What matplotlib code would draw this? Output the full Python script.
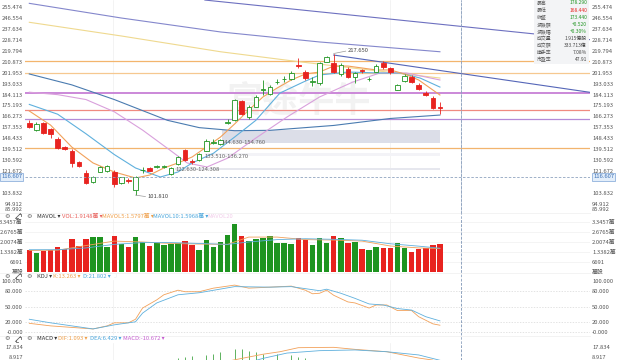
import numpy as np
import matplotlib.pyplot as plt
from matplotlib.patches import Rectangle

plt.rcParams['font.family'] = ['Noto Sans CJK TC', 'DejaVu Sans']

W, H = 640, 360

# ---- K線 ----
opens = [161.0, 155.1, 161.0, 155.9, 147.7, 141.4, 138.1, 129.1, 120.1, 112.7,
         121.0, 121.8, 120.9, 111.4, 114.1, 106.0, 122.1, 123.7, 124.6, 124.8,
         119.0, 127.2, 138.7, 129.7, 130.5, 138.1, 144.7, 143.6, 160.5, 163.2,
         179.0, 165.4, 174.1, 187.9, 184.5, 194.3, 196.6, 196.5, 208.3, 202.8,
         194.3, 193.3, 210.9, 210.1, 200.9, 204.7, 198.7, 203.8, 196.5, 202.8,
         210.1, 205.6, 187.8, 195.4, 198.7, 191.9, 185.6, 181.0, 174.2]
highs = [163.2, 161.6, 162.0, 156.7, 149.3, 141.9, 139.5, 129.7, 122.3, 117.4,
         125.6, 126.4, 122.3, 117.0, 115.8, 117.4, 124.5, 124.8, 126.8, 126.4,
         124.8, 133.8, 139.5, 131.3, 136.2, 147.7, 147.3, 147.7, 164.1, 180.4,
         180.0, 175.5, 183.7, 196.0, 191.9, 196.8, 199.2, 203.3, 213.7, 204.1,
         198.4, 210.7, 215.6, 217.65, 209.9, 206.6, 202.5, 205.0, 198.4, 209.1,
         211.5, 206.6, 192.7, 200.9, 200.1, 193.5, 187.0, 182.9, 178.29]
lows = [156.7, 154.2, 151.8, 148.5, 139.5, 138.7, 125.0, 124.8, 110.9, 112.1,
        120.7, 121.1, 108.2, 110.9, 111.7, 101.81, 120.1, 121.5, 124.0, 124.0,
        118.2, 126.4, 129.7, 127.6, 129.7, 137.5, 143.6, 142.8, 159.6, 162.4,
        167.3, 164.1, 173.5, 183.7, 183.7, 192.7, 194.3, 196.0, 205.5, 196.0,
        191.1, 191.9, 210.3, 201.7, 199.2, 197.6, 193.5, 201.7, 195.2, 202.5,
        205.0, 200.9, 187.4, 194.3, 193.5, 187.8, 182.9, 172.3, 168.44]
closes = [157.8, 160.0, 152.4, 151.8, 140.3, 139.5, 127.8, 125.8, 111.4, 116.3,
          124.5, 125.6, 110.9, 116.3, 113.1, 116.3, 122.3, 121.8, 125.6, 125.3,
          124.2, 133.2, 130.5, 128.9, 135.2, 146.1, 145.5, 146.9, 161.8, 179.6,
          168.1, 174.1, 182.3, 188.4, 190.5, 194.6, 196.8, 201.9, 207.5, 197.4,
          195.0, 209.6, 214.5, 202.8, 208.3, 198.2, 201.9, 203.2, 197.2, 207.4,
          206.4, 202.8, 191.9, 199.3, 194.6, 188.4, 183.5, 172.92, 173.44]

# 成交量 (萬)
volumes = [1.48, 1.30, 1.43, 1.48, 1.66, 1.52, 2.20, 1.75, 2.20, 2.33,
           2.33, 1.66, 2.42, 1.88, 1.66, 2.33, 2.02, 1.77, 1.93, 1.79,
           1.91, 1.97, 2.06, 1.82, 1.46, 2.13, 1.66, 2.04, 2.49, 3.23,
           2.42, 2.09, 2.24, 2.29, 2.44, 1.97, 1.97, 1.91, 2.26, 2.17,
           1.82, 2.27, 1.93, 2.44, 2.26, 1.93, 2.04, 1.55, 1.50, 1.70,
           1.64, 1.64, 1.93, 1.64, 1.37, 1.57, 1.59, 1.82, 1.91]

# 均線 (讀圖取點)
ma5_i = [0, 3, 6, 9, 12, 15, 17, 19, 21, 23, 25, 27, 29, 31, 33, 35, 37, 39, 41, 43, 45, 47, 49, 51, 53, 55, 57, 58]
ma5_v = [170.6, 159.1, 141.1, 128.1, 120.7, 115.8, 118.2, 124.0, 128.1, 133.0, 141.1, 149.3, 160.0, 171.4,
         182.1, 189.4, 196.0, 200.9, 202.5, 207.4, 207.4, 205.8, 204.2, 204.2, 200.9, 196.0, 187.8, 183.7]
ma10_i = [0, 4, 8, 12, 15, 18.5, 21, 23, 26, 29, 32, 35.4, 38.7, 41, 45, 49.5, 52.4, 55.2, 58]
ma10_v = [176, 168, 152, 135, 124, 116.6, 120.7, 128.1, 136, 149.3, 163, 185.3, 194.3, 200.1, 202.5,
          201.7, 201.7, 197.6, 190.2]
ma20_i = [0, 4, 8, 12, 16, 20, 22.3, 25.1, 28, 31.6, 36.4, 41, 45.7, 49.5, 53.3, 58]
ma20_v = [186, 184, 180, 170, 155, 138, 128.1, 124.8, 132, 146.9, 165.7, 182.1, 194.3, 201.7, 201.7, 196.0]
ma60_i = [0, 6, 12, 19.5, 24, 29, 34, 43, 51, 58]
ma60_v = [200.9, 192, 180.0, 163.0, 157, 154.5, 154.8, 158.8, 164.5, 167.3]
ma120_i = [0, 13, 27, 38, 48, 58]
ma120_v = [243.2, 232.0, 219.1, 211.0, 204.2, 197.6]
ma250_i = [0, 13, 27, 41, 58]
ma250_v = [258.7, 246.7, 235.3, 227.1, 219.1]

# 畫線工具
trend1_i, trend1_v = [24.8, 79.2], [261.4, 229.0]
trend2_i, trend2_v = [43, 79.2], [216.4, 185.9]
hlines = [211.5, 201.7, 185.3, 171.4, 164.1, 140.3]
hline_colors = ['#f3b56d', '#f6c890', '#c77fd6', '#f08a80', '#b48ad8', '#f2b46e']
zones = [(122.630, 124.308, 20.6), (133.510, 136.270, 24.8), (144.630, 154.760, 27.2)]
zone_colors = ['#e6e7ee', '#f3f3f7', '#dcdee8']

price_ticks = [255.474, 246.554, 237.634, 228.714, 219.794, 210.873, 201.953, 193.033, 184.113,
               175.193, 166.273, 157.353, 148.433, 139.512, 130.592, 121.672, 103.832, 94.912]
vol_ticks = [0, 0.6691, 1.3382, 2.0074, 2.6765, 3.3457]
vol_labels = ['萬股', '6691', '1.3382萬', '2.0074萬', '2.6765萬', '3.3457萬']

# MAVOL
mavol5_i = [0, 4, 8, 12, 16, 20, 24, 28, 31, 35, 39, 43, 47, 51, 55, 58]
mavol5_v = [1.45, 1.47, 1.78, 2.08, 2.02, 1.92, 1.88, 1.86, 2.35, 2.35, 2.18, 2.15, 2.08, 1.75, 1.62, 1.58]
mavol10_i = [0, 4, 8, 12, 16, 20, 24, 28, 31, 35, 39, 43, 47, 51, 55, 58]
mavol10_v = [1.50, 1.50, 1.62, 1.86, 1.98, 1.98, 1.92, 1.86, 2.02, 2.18, 2.24, 2.20, 2.14, 1.90, 1.74, 1.60]

# KDJ
k_i = [0, 3, 5, 9, 11, 12, 14, 15, 16, 18, 19, 21, 22, 24, 26, 29, 31, 34, 37, 39, 40, 41, 42, 43, 45, 46,
       48, 49, 50.5, 52, 54, 55, 57, 58]
k_v = [17, 12, 10, 6, 12, 18, 18, 25, 47, 63, 73, 82, 79, 79, 86, 92, 86, 88, 90, 82, 75, 76, 82, 72, 59, 57,
       47, 53, 53, 42, 42, 30, 16, 13.263]
d_i = [0, 3, 9, 12, 15, 16, 18, 21, 24, 29, 34, 37, 41, 42, 44, 46, 48, 50, 52, 54, 56, 58]
d_v = [25, 18, 6, 14, 20, 37, 57, 73, 77, 89, 88, 89, 81, 84, 76, 66, 55, 53, 46, 43, 30, 21.802]

# MACD
dif_i = [20, 25, 30, 33, 35.4, 38, 41, 43, 46, 50.5, 55, 57, 58]
dif_v = [-2, 2, 8, 11.5, 13.6, 17.0, 17.2, 17.3, 15.6, 13.6, 8.3, 6.6, 1.093]
dea_i = [20, 25, 30, 33, 36.4, 41, 46, 50.5, 55, 58]
dea_v = [-5, -2, 3, 8, 12.5, 14.5, 15.1, 13.6, 10.9, 6.429]
macd_i = [21, 22, 23, 25, 26, 27, 29, 30, 31, 32, 33, 35, 37, 38, 39]
macd_v = [8.3, 9.0, 10.0, 11.0, 12.0, 13.5, 16.0, 16.0, 14.5, 13.5, 12.0, 12.0, 10.5, 9.0, 8.3]

cross_i = 60.97
cross_price = 116.607
vgrid_i = [11.8, 50.9]

UP = '#1e9420'
DOWN = '#e8231f'
TXT = '#555555'
FS = 4.2

n = len(closes)
idx = np.arange(n)
X0, X1 = 25, 590          # 繪圖區左右 (像素)
xlim = (-0.61, 79.2)

fig = plt.figure(figsize=(6.4, 3.6), dpi=100)


def px_axes(y0, y1):
    # y 以像素計 (自上而下)
    return fig.add_axes([X0 / W, 1 - y1 / H, (X1 - X0) / W, (y1 - y0) / H])


def style(ax, ticks, labels):
    ax.set_xlim(*xlim)
    ax.set_xticks([])
    ax.set_yticks(ticks)
    ax.set_yticklabels(labels)
    ax.tick_params(axis='y', length=0, labelsize=FS, labelcolor=TXT, labelleft=True, labelright=True, pad=1.5)
    for s in ax.spines.values():
        s.set_visible(False)
    for v in vgrid_i:
        ax.axvline(v, color='#efefef', lw=0.5, zorder=0)
    ax.axvline(cross_i, color='#8fa3bf', lw=0.6, ls=(0, (3, 2)), zorder=6)


# ---------- 主圖 ----------
ax = px_axes(0, 212.7)
ax.set_ylim(87.4, 261.44)
style(ax, price_ticks, ['%.3f' % t for t in price_ticks])
fig.text((X0 - 2) / W, 1 - 209 / H, '85.992', fontsize=FS, color=TXT, ha='right', va='center')
fig.text((X1 + 2) / W, 1 - 209 / H, '85.992', fontsize=FS, color=TXT, ha='left', va='center')

for z, c in zip(zones, zone_colors):
    ax.add_patch(Rectangle((z[2], z[0]), n - 1 - z[2], z[1] - z[0], facecolor=c, edgecolor='none', zorder=1))
for p, c in zip(hlines, hline_colors):
    ax.axhline(p, color=c, lw=0.9 if c != '#c77fd6' else 1.3, zorder=2)

ax.text(38, 178, '富途牛牛', fontsize=26, color='#000000', alpha=0.05, ha='center', va='center',
        fontweight='bold', zorder=1)

ax.plot(trend1_i, trend1_v, color='#6d70c0', lw=0.8, zorder=3)
ax.plot(trend2_i, trend2_v, color='#5566b8', lw=0.8, zorder=3)
ax.plot(ma250_i, ma250_v, color='#8487cc', lw=0.8, zorder=3)
ax.plot(ma120_i, ma120_v, color='#efd98f', lw=0.8, zorder=3)
ax.plot(ma60_i, ma60_v, color='#4a7bb0', lw=0.8, zorder=3)
ax.plot(ma20_i, ma20_v, color='#d9a0dc', lw=0.8, zorder=3)
ax.plot(ma10_i, ma10_v, color='#5fb0dd', lw=0.8, zorder=3)
ax.plot(ma5_i, ma5_v, color='#f2a15a', lw=0.8, zorder=3)

ax.axhline(cross_price, color='#8fa3bf', lw=0.6, ls=(0, (3, 2)), zorder=6)

for i in range(n):
    o, h, l, c = opens[i], highs[i], lows[i], closes[i]
    up = c >= o
    col = UP if up else DOWN
    ax.vlines(i, l, h, color=col, lw=0.6, zorder=4)
    body = max(abs(c - o), 0.45)
    ax.bar(i, body, bottom=min(o, c), width=0.64, facecolor='white' if up else col,
           edgecolor=col, linewidth=0.6, zorder=5)

ax.plot([43, 44.7], [217.65, 219.6], color='#999999', lw=0.5, zorder=5)
ax.text(45.0, 220.3, '217.650', fontsize=FS, color='#444444', va='center', zorder=7)
ax.plot([15, 16.4], [101.81, 100.6], color='#999999', lw=0.5, zorder=5)
ax.text(16.7, 100.3, '101.810', fontsize=FS, color='#444444', va='center', zorder=7)
for z in zones:
    ax.text(z[2], z[0], '%.3f-%.3f' % (z[0], z[1]), fontsize=FS, color='#666666', va='center', zorder=7)

# 十字游標價格
for xx, ha in [(1, 'left'), (X1 + 3, 'left')]:
    fig.text(xx / W, 1 - 177 / H, '116.607', fontsize=FS, color='#3a6fb5', ha=ha, va='center',
             bbox=dict(boxstyle='square,pad=0.25', facecolor='#e3eefa', edgecolor='#7da4d6', lw=0.5), zorder=10)

# 資訊框
fig.patches.append(Rectangle((534 / W, 1 - 64 / H), 55 / W, 64 / H, transform=fig.transFigure,
                             facecolor='#f3f4f6', edgecolor='none', zorder=8))
info_names = ['最高', '最低', '收盤', '漲跌額', '漲跌幅', '成交量', '成交額', '換手率', '市盈率']
info_values = ['178.290', '168.440', '173.440', '+0.520', '+0.30%', '1.915億股', '333.713億', '7.08%', '47.91']
info_colors = [UP, DOWN, UP, UP, UP, '#444444', '#444444', '#444444', '#444444']
for k, (nm, vl, cl) in enumerate(zip(info_names, info_values, info_colors)):
    yy = 1 - (3 + 7.1 * k) / H
    fig.text(536.5 / W, yy, nm, fontsize=3.5, color='#555555', va='center', zorder=9)
    fig.text(587 / W, yy, vl, fontsize=3.5, color=cl, va='center', ha='right', zorder=9)

# ---------- 成交量 ----------
axv = px_axes(219, 272)
axv.set_ylim(0, 3.567)
style(axv, vol_ticks, vol_labels)
for t in vol_ticks[1:]:
    axv.axhline(t, color='#f0f0f0', lw=0.5, zorder=0)
vcol = [UP if closes[i] >= opens[i] else DOWN for i in range(n)]
axv.bar(idx, volumes, width=0.78, color=vcol, zorder=2)
axv.plot(mavol5_i, mavol5_v, color='#f2a15a', lw=0.6, zorder=3)
axv.plot(mavol10_i, mavol10_v, color='#5fb0dd', lw=0.6, zorder=3)

# ---------- KDJ ----------
axk = px_axes(280, 335)
axk.set_ylim(-5.9, 102)
kdj_ticks = [0, 20, 50, 80, 100]
style(axk, kdj_ticks, ['-0.000', '20.000', '50.000', '80.000', '100.000'])
for t in kdj_ticks[:-1]:
    axk.axhline(t, color='#d8d8d8', lw=0.5, ls=(0, (2, 2)), zorder=0)
axk.plot(k_i, k_v, color='#f2a15a', lw=0.6)
axk.plot(d_i, d_v, color='#5fb0dd', lw=0.6)

# ---------- MACD ----------
axm = px_axes(343, 360)
axm.set_ylim(6.66, 20.94)
style(axm, [8.917, 17.834], ['8.917', '17.834'])
axm.vlines(macd_i, 0, macd_v, color=UP, lw=0.5)
axm.plot(dif_i, dif_v, color='#f2a15a', lw=0.6)
axm.plot(dea_i, dea_v, color='#5fb0dd', lw=0.6)

# ---------- 指標標題列 ----------
for ysep in [212.5, 273, 336]:
    fig.add_artist(plt.Line2D([0, X1 / W], [1 - ysep / H] * 2, color='#eeeeee', lw=0.5))

headers = [
    (216, [(37, 'MAVOL ▾', '#333333'), (62, 'VOL:1.9148萬 ▾', '#e8615c'),
           (102, 'MAVOL5:1.5797萬 ▾', '#f0a04a'), (153, 'MAVOL10:1.5968萬 ▾', '#4aa6dc'),
           (207, 'MAVOL20', '#f2cdea')]),
    (276, [(37, 'KDJ ▾', '#333333'), (53, 'K:13.263 ▾', '#f0a04a'), (83, 'D:21.802 ▾', '#4aa6dc'),
           (114, 'J', '#eeeeee')]),
    (339, [(37, 'MACD ▾', '#333333'), (58, 'DIF:1.093 ▾', '#f0a04a'), (90, 'DEA:6.429 ▾', '#4aa6dc'),
           (123, 'MACD:-10.672 ▾', '#c65fd0')]),
]
for yy, items in headers:
    for xx in [7, 29]:
        fig.text(xx / W, 1 - yy / H, '⚙', fontsize=4.5, color='#666666', ha='center', va='center',
                 family='DejaVu Sans')
    # 展開圖示 (雙向斜箭頭)
    fig.add_artist(plt.Line2D([15.5 / W, 20.5 / W], [1 - (yy + 2.5) / H, 1 - (yy - 2.5) / H],
                              color='#666666', lw=0.6))
    fig.add_artist(plt.Line2D([18.5 / W, 20.5 / W, 20.5 / W],
                              [1 - (yy - 2.5) / H, 1 - (yy - 2.5) / H, 1 - (yy - 0.5) / H],
                              color='#666666', lw=0.6))
    fig.add_artist(plt.Line2D([15.5 / W, 15.5 / W, 17.5 / W],
                              [1 - (yy + 0.5) / H, 1 - (yy + 2.5) / H, 1 - (yy + 2.5) / H],
                              color='#666666', lw=0.6))
    for xx, s, c in items:
        fig.text(xx / W, 1 - yy / H, s, fontsize=FS, color=c, va='center')

# 游標
fig.add_artist(plt.Line2D([461 / W] * 2, [0, 1], color='#8fa3bf', lw=0.6, ls=(0, (3, 2))))

fig.savefig('out.png', dpi=100, facecolor='white')
